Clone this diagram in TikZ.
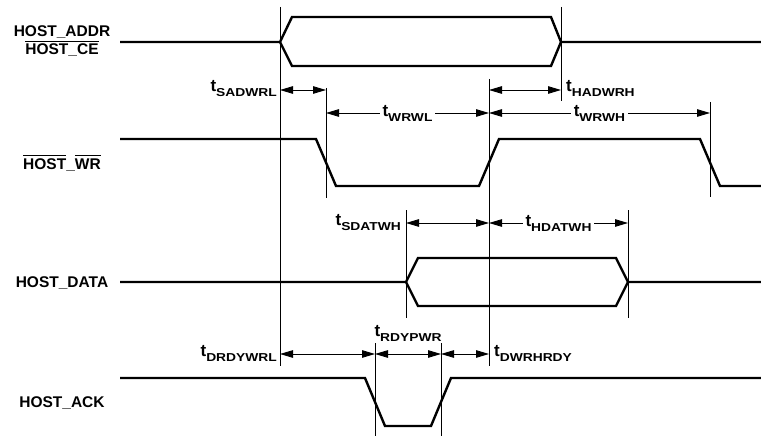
\documentclass[tikz,border=0pt]{standalone}
\usepackage{fontspec}
\setmainfont{Liberation Sans}
\newfontfamily\subfont{Liberation Sans}[FakeStretch=1.2]
\usepackage{tikz}
\usetikzlibrary{arrows.meta}

\newcommand\tdim[1]{{\fontsize{17}{18}\selectfont t}\raisebox{-5pt}{\subfont\fontsize{11.5}{13}\selectfont\bfseries #1}}
\newcommand\ovl[1]{\setbox0\hbox{#1}\rlap{\rule[12.8pt]{\wd0}{1.3pt}}\box0}

\tikzset{
  sig/.style={line width=2.4pt},
  vline/.style={line width=0.9pt},
  dimline/.style={line width=0.9pt, {Triangle[length=13pt,width=7.5pt]}-{Triangle[length=13pt,width=7.5pt]}},
  lab/.style={font=\fontsize{15.5}{18}\selectfont\bfseries, inner sep=0pt},
}

\begin{document}
\begin{tikzpicture}[x=1pt, y=-1pt]
            \useasboundingbox (0,0) rectangle (761,436);

            % signal names
            \node[lab, align=center] (sADDR) at (62,41.5) {HOST\_ADDR\\\ovl{HOST\_CE}};
            \node[lab, anchor=base] (sWR) at (62,169) {\ovl{HOST}\_\ovl{WR}};
            \node[lab, anchor=base] (sDATA) at (62,287) {HOST\_DATA};
            \node[lab, anchor=base] (sACK) at (62,407) {HOST\_ACK};

            % waveforms
            \draw[sig] (120,42) -- (280,42) -- (292,17) -- (551,17) -- (561,42) -- (761,42); % addr
            \draw[sig] (280,42) -- (292,66) -- (551,66) -- (561,42);
            \draw[sig] (120,139) -- (316,139) -- (336,186) -- (479,186) -- (499,139)
                -- (700,139) -- (720,186) -- (761,186); % wr
            \draw[sig] (120,282) -- (406,282) -- (418,258) -- (616,258) -- (628,282) -- (761,282); % data
            \draw[sig] (406,282) -- (418,306) -- (616,306) -- (628,282);
            \draw[sig] (120,378) -- (365,378) -- (385,426) -- (431,426) -- (451,378) -- (761,378); % ack

            % timing markers
            \draw[vline] (280,7) coordinate (v1) -- (280,366);
            \draw[vline] (326,88) coordinate (v2) -- (326,198);
            \draw[vline] (489,79) coordinate (v3) -- (489,366);
            \draw[vline] (561,7) coordinate (v4) -- (561,101);
            \draw[vline] (710,102) coordinate (v5) -- (710,197);
            \draw[vline] (406,210) coordinate (v6) -- (406,318);
            \draw[vline] (628,210) coordinate (v7) -- (628,318);
            \draw[vline] (375,343) coordinate (v8) -- (375,436);
            \draw[vline] (441,343) coordinate (v9) -- (441,436);

            % arrow levels
            \coordinate (a1) at (0,90);
            \coordinate (a2) at (0,113);
            \coordinate (a3) at (0,223);
            \coordinate (a4) at (0,354);

            \draw[dimline] (v1 |- a1) -- (v2 |- a1); % sadwrl
            \node[lab, anchor=base east] (lSADWRL) at (277,92) {\tdim{SADWRL}};
            \draw[dimline] (v3 |- a1) -- (v4 |- a1); % hadwrh
            \node[lab, anchor=base west] (lHADWRH) at (566,92) {\tdim{HADWRH}};
            \draw[dimline] (v2 |- a2) -- (v3 |- a2)
                node[lab, midway, fill=white, inner sep=3pt] (lWRWL) {\tdim{WRWL}};
            \draw[dimline] (v3 |- a2) -- (v5 |- a2)
                node[lab, midway, fill=white, inner sep=3pt] (lWRWH) {\tdim{WRWH}};

            \draw[dimline] (v6 |- a3) -- (v3 |- a3); % sdatwh
            \node[lab, anchor=base east] (lSDATWH) at (401,225) {\tdim{SDATWH}};
            \draw[dimline] (v3 |- a3) -- (v7 |- a3)
                node[lab, midway, fill=white, inner sep=3pt] (lHDATWH) {\tdim{HDATWH}};

            \draw[dimline] (v1 |- a4) -- (v8 |- a4); % drdywrl
            \node[lab, anchor=base east] (lDRDYWRL) at (277,356) {\tdim{DRDYWRL}};
            \draw[dimline] (v8 |- a4) -- (v9 |- a4); % rdypwr
            \node[lab, anchor=base] (lRDYPWR) at (408,336) {\tdim{RDYPWR}};
            \draw[dimline] (v9 |- a4) -- (v3 |- a4); % dwrhrdy
            \node[lab, anchor=base west] (lDWRHRDY) at (494,356) {\tdim{DWRHRDY}};
        \end{tikzpicture}
\end{document}
